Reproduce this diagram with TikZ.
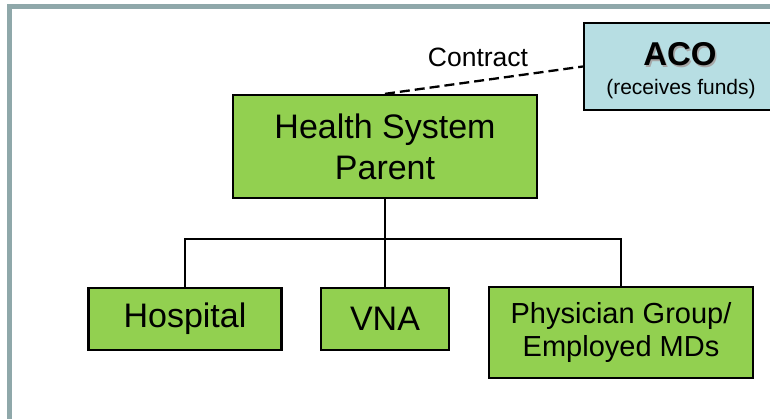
\documentclass[tikz,border=0pt]{standalone}
\usepackage{fontspec}
\setmainfont{Liberation Sans}
\definecolor{framegray}{RGB}{143,168,170}
\definecolor{boxgreen}{RGB}{146,208,80}
\definecolor{acoblue}{RGB}{183,222,227}
\tikzset{
  orgbox/.style={draw=black, line width=2.3pt, fill=boxgreen, inner sep=0pt, align=center},
  link/.style={draw=black, line width=2.3pt, line join=miter},
  bigtext/.style={font=\fontsize{34}{41}\selectfont},
  midtext/.style={font=\fontsize{29}{33}\selectfont},
}
\begin{document}
\begin{tikzpicture}[x=1pt, y=-1pt]
\clip (0,0) rectangle (770,419);
\fill[white] (0,0) rectangle (770,419);
% frame
\draw[framegray, line width=5pt] (9.3,430) -- (9.3,6.5) -- (780,6.5);
% nodes
\node[orgbox, bigtext, minimum width=193pt, minimum height=62pt] (hosp) at (185,319) {Hospital};
\node[orgbox, bigtext, minimum width=128pt, minimum height=62pt] (vna) at (385,319) {VNA};
\node[orgbox, midtext, minimum width=264pt, minimum height=91pt] (phys) at (621,332.5) {Physician Group/\\Employed MDs};
\node[orgbox, bigtext, minimum width=304pt, minimum height=103pt] (parent) at (385,146.5) {Health System\\Parent};
\node[draw=black, line width=2.3pt, fill=acoblue, inner sep=0pt, minimum width=194pt, minimum height=87pt] (aco) at (681,66.5) {};
\node[anchor=base, text=black!35, font=\fontsize{33}{33}\selectfont\bfseries] (acoshadow) at (681.5,67.5) {ACO};
\node[anchor=base, font=\fontsize{33}{33}\selectfont\bfseries] (acotitle) at (680,66) {ACO};
\node[anchor=base, font=\fontsize{21}{21}\selectfont] (acosub) at (681,95) {(receives funds)};
\node[anchor=base, font=\fontsize{26.5}{26.5}\selectfont] (contract) at (478,67) {Contract};
% connectors
\coordinate (bus) at (385,239);
\draw[link] (parent.south) -- (vna.north);
\draw[link] (hosp.north) |- (bus) -| (phys.north);
\draw[link, dash pattern=on 10pt off 5pt] (parent.north) -- (aco.west);
\end{tikzpicture}
\end{document}
